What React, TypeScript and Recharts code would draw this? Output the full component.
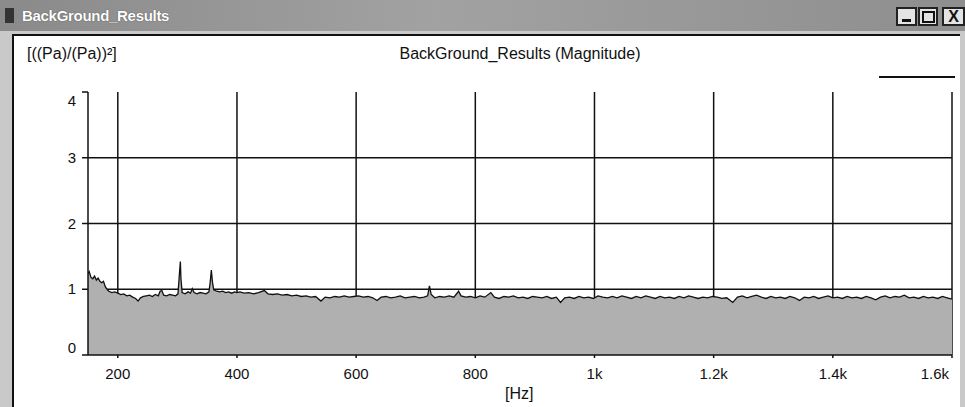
import React from 'react';
import { AreaChart, Area, XAxis, YAxis, CartesianGrid } from 'recharts';

// [Hz, magnitude], 150 Hz – 400 Hz (start decay + the two spikes)
const lowBand: [number, number][] = [
	[150, 1.24], [152, 1.27], [155, 1.18], [158, 1.16], [161, 1.2], [164, 1.14],
	[167, 1.17], [170, 1.12], [173, 1.1], [176, 1.12], [179, 1.04], [182, 1.0],
	[185, 0.97], [190, 0.95], [195, 0.96], [200, 0.94], [205, 0.92], [210, 0.93],
	[215, 0.9], [220, 0.91], [225, 0.88], [230, 0.86], [234, 0.82], [238, 0.87],
	[243, 0.89], [248, 0.9], [253, 0.91], [258, 0.89], [263, 0.92], [268, 0.9],
	[271, 0.97], [274, 0.98], [277, 0.91], [282, 0.9], [287, 0.92], [292, 0.91],
	[297, 0.9], [301, 0.93], [303, 1.18], [305, 1.42], [306, 1.16], [308, 0.95],
	[313, 0.93], [318, 0.96], [322, 0.94], [325, 1.01], [328, 0.95], [333, 0.93],
	[338, 0.95], [343, 0.94], [348, 0.93], [353, 0.96], [355, 1.1], [357, 1.29],
	[359, 1.1], [361, 0.99], [366, 0.97], [371, 0.96], [376, 0.97], [381, 0.95],
	[386, 0.96], [391, 0.94], [396, 0.96], [400, 0.95],
];

// 400 Hz – 1 kHz
const midBand: [number, number][] = [
	[405, 0.96], [412, 0.94], [420, 0.95], [428, 0.93], [436, 0.95], [446, 0.98],
	[452, 0.93], [460, 0.92], [468, 0.93], [476, 0.91], [484, 0.92], [492, 0.9],
	[500, 0.91], [508, 0.89], [516, 0.9], [524, 0.88], [532, 0.89], [541, 0.82],
	[548, 0.88], [556, 0.87], [564, 0.89], [572, 0.88], [580, 0.9], [588, 0.88],
	[596, 0.89], [604, 0.9], [612, 0.88], [620, 0.89], [628, 0.87], [635, 0.83],
	[642, 0.88], [650, 0.89], [658, 0.87], [666, 0.88], [674, 0.9], [682, 0.87],
	[690, 0.88], [698, 0.89], [706, 0.87], [714, 0.88], [720, 0.9], [723, 1.05],
	[726, 0.92], [732, 0.87], [740, 0.89], [748, 0.88], [756, 0.9], [764, 0.88],
	[772, 0.97], [776, 0.9], [784, 0.88], [792, 0.89], [800, 0.87], [808, 0.9],
	[816, 0.88], [826, 0.95], [832, 0.88], [840, 0.86], [848, 0.89], [856, 0.88],
	[864, 0.9], [872, 0.87], [880, 0.88], [888, 0.86], [896, 0.89], [904, 0.88],
	[912, 0.87], [920, 0.89], [928, 0.86], [936, 0.88], [943, 0.8], [950, 0.87],
	[958, 0.88], [966, 0.86], [974, 0.89], [982, 0.87], [990, 0.88], [998, 0.86],
];

// 1 kHz – 1.6 kHz
const highBand: [number, number][] = [
	[1006, 0.9], [1014, 0.88], [1022, 0.87], [1030, 0.89], [1038, 0.87], [1046, 0.9],
	[1054, 0.88], [1062, 0.86], [1070, 0.89], [1078, 0.87], [1086, 0.9], [1094, 0.88],
	[1102, 0.86], [1110, 0.89], [1118, 0.87], [1126, 0.88], [1134, 0.86], [1142, 0.89],
	[1150, 0.87], [1158, 0.9], [1166, 0.88], [1174, 0.86], [1182, 0.88], [1190, 0.87],
	[1198, 0.89], [1206, 0.88], [1214, 0.86], [1222, 0.87], [1232, 0.8], [1240, 0.88],
	[1248, 0.9], [1256, 0.87], [1264, 0.89], [1272, 0.91], [1280, 0.88], [1288, 0.86],
	[1296, 0.89], [1304, 0.87], [1312, 0.88], [1320, 0.86], [1328, 0.89], [1336, 0.87],
	[1344, 0.83], [1352, 0.88], [1360, 0.87], [1368, 0.89], [1376, 0.86], [1384, 0.88],
	[1392, 0.9], [1400, 0.87], [1408, 0.88], [1416, 0.86], [1424, 0.89], [1432, 0.87],
	[1440, 0.88], [1448, 0.86], [1456, 0.89], [1464, 0.87], [1472, 0.84], [1480, 0.88],
	[1488, 0.9], [1496, 0.87], [1504, 0.89], [1512, 0.88], [1520, 0.91], [1528, 0.87],
	[1536, 0.88], [1544, 0.86], [1552, 0.89], [1560, 0.87], [1568, 0.88], [1576, 0.86],
	[1584, 0.89], [1592, 0.87], [1600, 0.85],
];

const xTicks = [200, 400, 600, 800, 1000, 1200, 1400, 1600];
const yTicks = [0, 1, 2, 3, 4];
const yGrid = [1, 2, 3];

const spectrum = [...lowBand, ...midBand, ...highBand].map(([hz, mag]) => ({ hz, mag }));

const FONT = '"Liberation Sans", Arial, sans-serif';

const fmtHz = (v: number) => (v >= 1000 ? `${v / 1000}k` : `${v}`);

const XTick = (props: any) => {
	const { x, y, payload } = props;
	const last = payload.value === 1600;
	return (
		<text x={x} y={y} dy='0.71em' textAnchor={last ? 'end' : 'middle'} fontSize={15} fontFamily={FONT} fill='#111'>
			{fmtHz(payload.value)}
		</text>
	);
};

const YTick = (props: any) => {
	const { x, y, payload } = props;
	const dy = payload.value === 4 ? 14 : payload.value === 0 ? -2 : 5;
	return (
		<text x={x} y={y} dy={dy} textAnchor='end' fontSize={15} fontFamily={FONT} fill='#111'>
			{payload.value}
		</text>
	);
};

const Btn = ({ left, width, children }: { left: number; width: number; children: React.ReactNode }) => (
	<div
		style={{
			position: 'absolute',
			left,
			top: 7,
			width,
			height: 19,
			background: '#e4e4e4',
			border: '2px solid #222',
			boxSizing: 'border-box',
			display: 'flex',
			alignItems: 'center',
			justifyContent: 'center',
			fontFamily: FONT,
			fontWeight: 700,
			fontSize: 16,
			color: '#111',
		}}
	>
		{children}
	</div>
);

export default function App() {
	return (
		<div style={{ position: 'relative', width: 965, height: 407, overflow: 'hidden', background: '#c9c9c9' }}>
			<style>{'body{margin:0}'}</style>

			{/* title bar */}
			<div
				style={{
					position: 'absolute',
					left: 0,
					top: 0,
					width: 965,
					height: 31,
					background: 'linear-gradient(90deg, #8a8a8a, #a2a2a2 45%, #979797 75%, #8e8e8e)',
				}}
			>
				<div style={{ position: 'absolute', left: 5, top: 8, width: 9, height: 15, background: '#333' }} />
				<div
					style={{
						position: 'absolute',
						left: 22,
						top: 7,
						fontFamily: FONT,
						fontWeight: 700,
						fontSize: 15,
						color: '#fff',
						textShadow: '0 0 1px #333',
						letterSpacing: -0.3,
					}}
				>
					BackGround_Results
				</div>
				<Btn left={896} width={21}>
					<div style={{ width: 9, height: 3, background: '#111', marginTop: 8 }} />
				</Btn>
				<Btn left={918} width={20}>
					<div style={{ width: 9, height: 8, border: '2px solid #111' }} />
				</Btn>
				<Btn left={942} width={23}>
					X
				</Btn>
			</div>

			{/* chart panel */}
			<div
				style={{
					position: 'absolute',
					left: 12,
					top: 34,
					width: 948,
					height: 373,
					background: '#fff',
					borderLeft: '2px solid #111',
					borderTop: '2px solid #111',
					boxSizing: 'border-box',
				}}
			/>

			<div style={{ position: 'absolute', left: 27, top: 45, fontFamily: FONT, fontSize: 16, color: '#111' }}>
				[((Pa)/(Pa))²]
			</div>
			<div
				style={{
					position: 'absolute',
					left: 370,
					top: 45,
					width: 300,
					textAlign: 'center',
					fontFamily: FONT,
					fontSize: 16,
					color: '#111',
				}}
			>
				BackGround_Results (Magnitude)
			</div>
			<div style={{ position: 'absolute', left: 879, top: 76, width: 76, height: 2, background: '#111' }} />
			<div style={{ position: 'absolute', left: 505, top: 385, fontFamily: FONT, fontSize: 16, color: '#111' }}>
				[Hz]
			</div>

			<div style={{ position: 'absolute', left: 0, top: 0 }}>
				<AreaChart width={965} height={407} data={spectrum} margin={{ top: 92, right: 13, bottom: 22, left: 58 }}>
					<CartesianGrid
						stroke='#111'
						strokeWidth={1.5}
						horizontalValues={yGrid}
						verticalValues={xTicks}
					/>
					<XAxis
						dataKey='hz'
						type='number'
						domain={[150, 1600]}
						ticks={xTicks}
						allowDataOverflow
						height={30}
						tickSize={3}
						tickMargin={10}
						stroke='#111'
						strokeWidth={1.5}
						tick={<XTick />}
					/>
					<YAxis
						type='number'
						domain={[0, 4]}
						ticks={yTicks}
						allowDataOverflow
						width={30}
						tickSize={6}
						tickMargin={6}
						stroke='#111'
						strokeWidth={1.5}
						tick={<YTick />}
					/>
					<Area
						type='linear'
						dataKey='mag'
						stroke='#111'
						strokeWidth={1.3}
						fill='#b0b0b0'
						fillOpacity={1}
						dot={false}
						activeDot={false}
						isAnimationActive={false}
					/>
				</AreaChart>
			</div>
		</div>
	);
}
